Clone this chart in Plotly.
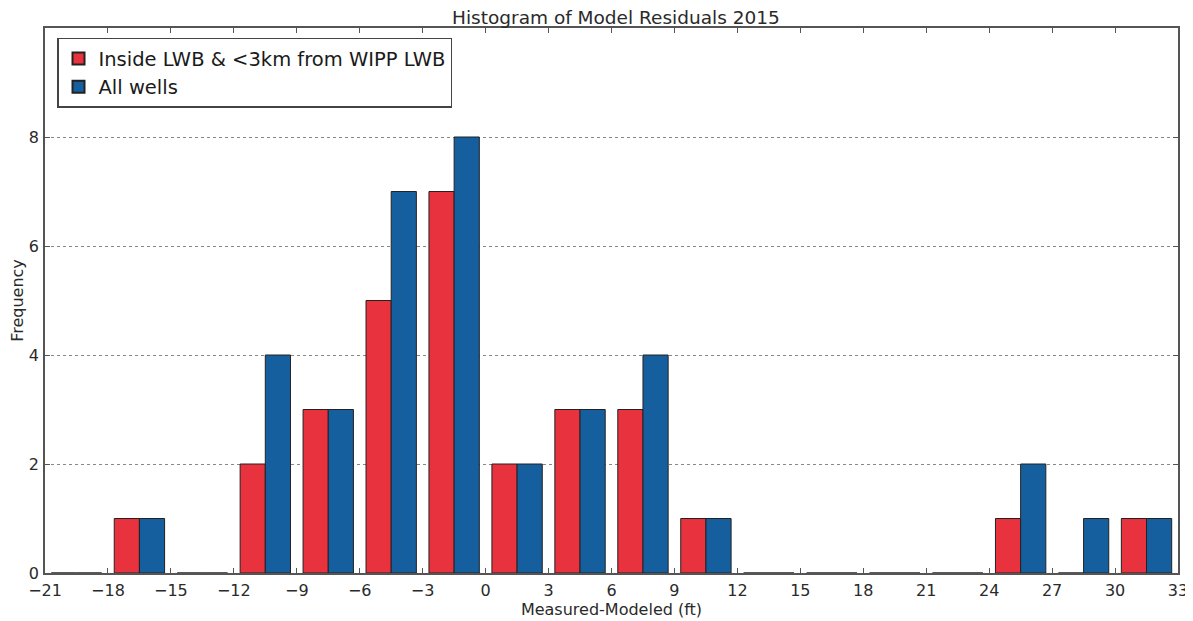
import plotly.graph_objects as go

bin_edges = [-21, -18, -15, -12, -9, -6, -3, 0, 3, 6, 9, 12, 15, 18, 21, 24, 27, 30, 33]
inside_counts = [0, 1, 0, 2, 3, 5, 7, 2, 3, 3, 1, 0, 0, 0, 0, 1, 0, 1]
all_counts = [0, 1, 0, 4, 3, 7, 8, 2, 3, 4, 1, 0, 0, 0, 0, 2, 1, 1]
series_names = ["Inside LWB & <3km from WIPP LWB", "All wells"]
y_ticks = [0, 2, 4, 6, 8]

centers = [(a + b) / 2 for a, b in zip(bin_edges[:-1], bin_edges[1:])]
font = "DejaVu Sans"

fig = go.Figure()
fig.add_trace(go.Bar(x=centers, y=inside_counts, name=series_names[0],
                     marker=dict(color="#e8333f", line=dict(color="#222", width=1))))
fig.add_trace(go.Bar(x=centers, y=all_counts, name=series_names[1],
                     marker=dict(color="#165f9e", line=dict(color="#222", width=1))))

# page has an 8px body margin, so the figure is sized to fill the rest
fig.update_layout(
    width=1185, height=613,
    barmode="group", bargap=0.2, bargroupgap=0,
    paper_bgcolor="white", plot_bgcolor="white",
    margin=dict(l=37, r=15, t=20, b=48),
    font=dict(family=font, size=16, color="#2a2a2a"),
    title=dict(text="Histogram of Model Residuals 2015", x=0.513, xanchor="center",
               y=1 - 9.5 / 613, yanchor="middle", pad=dict(t=0, b=0),
               font=dict(size=18.5, color="#2a2a2a")),
    legend=dict(x=0.0106, y=0.982, xanchor="left", yanchor="top",
                bgcolor="white", bordercolor="#444", borderwidth=1.5,
                font=dict(size=19.5, color="#1a1a1a"), itemsizing="constant",
                tracegroupgap=2),
    showlegend=True,
)
fig.update_xaxes(
    range=[-21, 33], tickmode="array", tickvals=bin_edges,
    ticktext=[("\u2212" + str(-v)) if v < 0 else str(v) for v in bin_edges],
    showgrid=False, zeroline=False, automargin=False,
    showline=True, linecolor="#555", linewidth=1.5, mirror="ticks",
    ticks="inside", ticklen=5, tickcolor="#555", ticklabelstandoff=2,
    tickfont=dict(size=16),
    title=dict(text="Measured-Modeled (ft)", font=dict(size=16), standoff=4),
)
fig.update_yaxes(
    range=[0, 10], tickmode="array", tickvals=y_ticks,
    showgrid=True, gridcolor="#888", griddash="dot", gridwidth=1,
    zeroline=False, automargin=False,
    showline=True, linecolor="#555", linewidth=1.5, mirror="ticks",
    ticks="inside", ticklen=5, tickcolor="#555", ticklabelstandoff=1,
    tickfont=dict(size=16),
    title=dict(text="Frequency", font=dict(size=16), standoff=2),
)

fig.write_html("out.html")
